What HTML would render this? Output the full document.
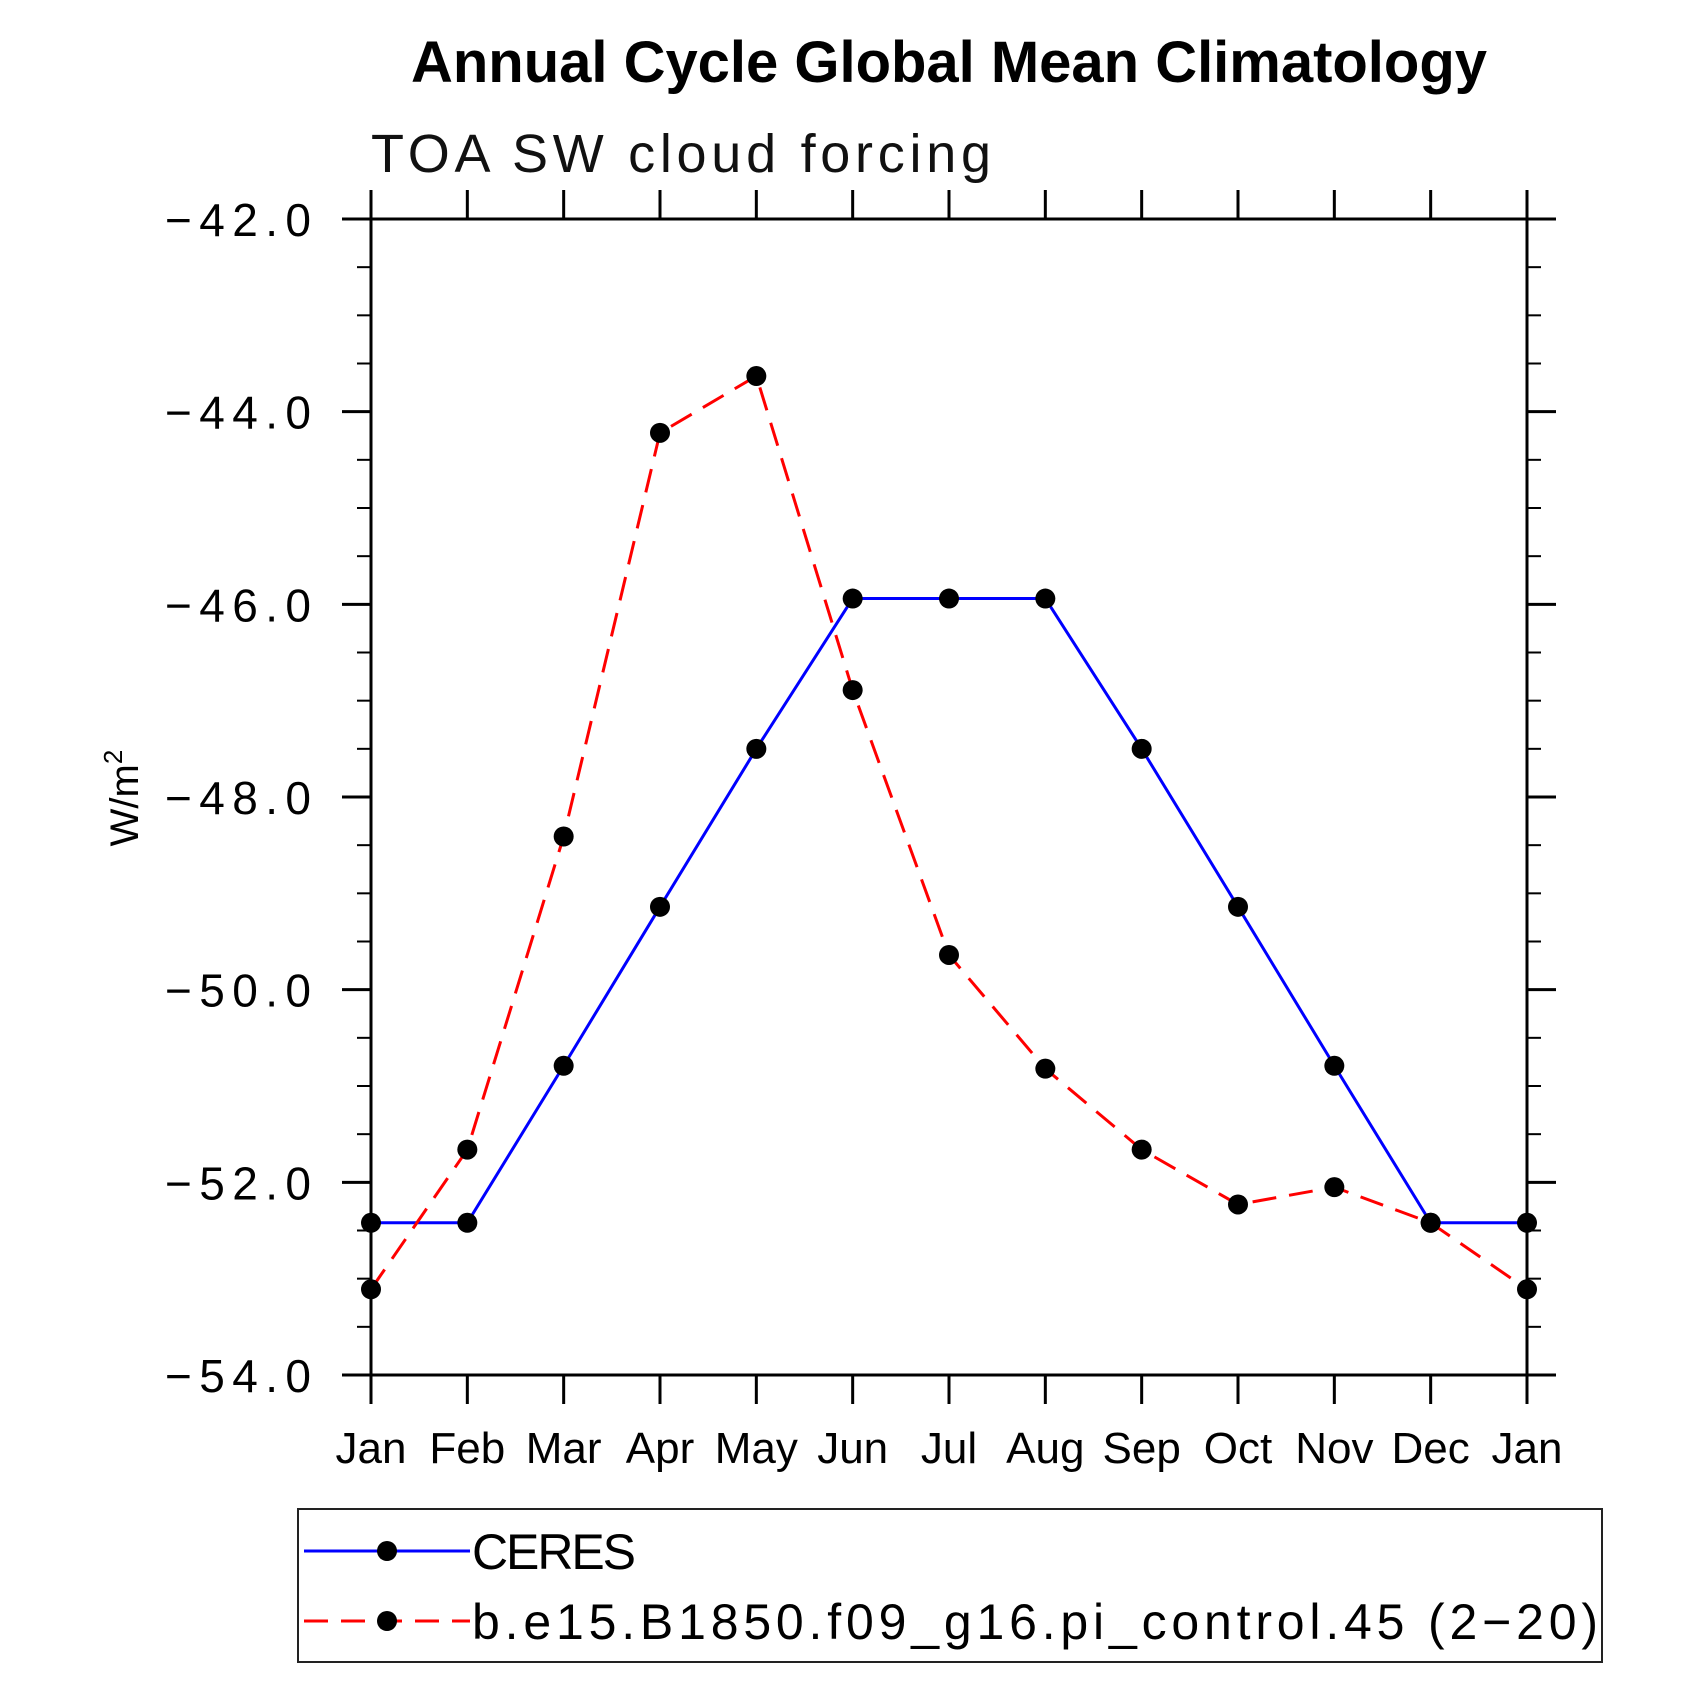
<!DOCTYPE html>
<html><head><meta charset="utf-8"><style>
html,body{margin:0;padding:0;background:#fff;}
svg{display:block;font-family:"Liberation Sans",sans-serif;}
</style></head><body>
<svg id="chart" width="1702" height="1702" viewBox="0 0 1702 1702">
<text x="949" y="82" font-size="58" font-weight="bold" text-anchor="middle" textLength="1076">Annual Cycle Global Mean Climatology</text>
<text x="371" y="172" font-size="54" textLength="620" fill="#111">TOA SW cloud forcing</text>
<text transform="translate(138,798) rotate(-90)" font-size="40" text-anchor="middle">W/m<tspan dy="-16" font-size="26">2</tspan></text>
<g id="axes"></g>
<g id="series"></g>
<g>
<rect x="298" y="1509" width="1304" height="153" fill="none" stroke="#222" stroke-width="2"/>
<g>
<line x1="304" y1="1551" x2="470" y2="1551" stroke="#0000ff" stroke-width="3"/>
<circle cx="387" cy="1551" r="10" fill="#000"/>
<text x="472" y="1569" font-size="50" textLength="164">CERES</text>
</g>
<g>
<line x1="304" y1="1621" x2="470" y2="1621" stroke="#ff0000" stroke-width="3" stroke-dasharray="24,13"/>
<circle cx="387" cy="1621" r="10" fill="#000"/>
<text x="472" y="1639" font-size="50" textLength="1126">b.e15.B1850.f09_g16.pi_control.45 (2−20)</text>
</g>
</g>
</svg>
<script>
const months = ["Jan","Feb","Mar","Apr","May","Jun","Jul","Aug","Sep","Oct","Nov","Dec","Jan"];
const ceresValues = [-52.42,-52.42,-50.79,-49.14,-47.50,-45.94,-45.94,-45.94,-47.50,-49.14,-50.79,-52.42,-52.42];
const modelValues = [-53.11,-51.66,-48.41,-44.22,-43.63,-46.89,-49.64,-50.82,-51.66,-52.23,-52.05,-52.42,-53.11];
const yTickValues = [-42,-44,-46,-48,-50,-52,-54];
const yTickLabels = ["−42.0","−44.0","−46.0","−48.0","−50.0","−52.0","−54.0"];
const yMin = -54, yMax = -42;

const L=371,R=1527,T=219,B=1375;
const NS="http://www.w3.org/2000/svg";
function xs(i){return L+(R-L)*i/(months.length-1);}
function ys(v){return B-(v-yMin)/(yMax-yMin)*(B-T);}
function mk(tag,attrs,parent){const e=document.createElementNS(NS,tag);for(const k in attrs)e.setAttribute(k,attrs[k]);parent.appendChild(e);return e;}
const ax=document.getElementById('axes');
const frame=mk('rect',{x:L,y:T,width:R-L,height:B-T,fill:'none',stroke:'#000','stroke-width':3},ax);


months.forEach((m,i)=>{
  const x=xs(i);
  mk('line',{x1:x,y1:T-29,x2:x,y2:T,stroke:'#000','stroke-width':3},ax);
  mk('line',{x1:x,y1:B,x2:x,y2:B+29,stroke:'#000','stroke-width':3},ax);
  const t=mk('text',{x:x,y:1463,'font-size':44,'text-anchor':'middle'},ax);
  t.textContent=m;
  
  
});
for(let v=yMin; v<=yMax+1e-9; v+=0.5){
  const y=ys(v);
  const major=Math.abs(v/2-Math.round(v/2))<1e-6;
  const len=major?29:14;
  mk('line',{x1:L-len,y1:y,x2:L,y2:y,stroke:'#000','stroke-width':major?3:2},ax);
  mk('line',{x1:R,y1:y,x2:R+len,y2:y,stroke:'#000','stroke-width':major?3:2},ax);
}
yTickValues.forEach((v,i)=>{
  const t=mk('text',{x:165,y:ys(v)+17,'font-size':46,textLength:146,lengthAdjust:'spacing'},ax);
  t.textContent=yTickLabels[i];
  
  
});
const sg=document.getElementById('series');
function drawSeries(vals,color,dash,name){
  const g=mk('g',{},sg);
  
  
  const attrs={points:vals.map((v,i)=>xs(i)+','+ys(v)).join(' '),fill:'none',stroke:color,'stroke-width':3};
  if(dash)attrs['stroke-dasharray']=dash;
  mk('polyline',attrs,g);
  vals.forEach((v,i)=>{
    const c=mk('circle',{cx:xs(i),cy:ys(v),r:10,fill:'#000'},g);
    
    
  });
}
drawSeries(ceresValues,'#0000ff',null,'ceres-series');
drawSeries(modelValues,'#ff0000','24,13','model-series');
</script>
</body></html>
